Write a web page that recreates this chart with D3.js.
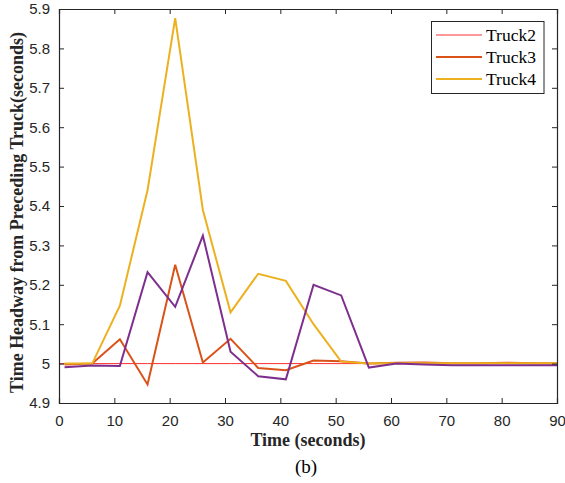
<!DOCTYPE html>
<html><head><meta charset="utf-8">
<script src="https://cdn.jsdelivr.net/npm/d3@7"></script>
<style>body{margin:0;background:#fff}svg{display:block}</style>
</head><body>
<script>
const times = [1,6,11,16,21,26,31,36,41,46,51,56,61,66,71,76,81,86,90];
const truck2 = [5,5,5,5,5,5,5,5,5,5,5,5,5,5,5,5,5,5,5];
const truck2Times = [0,6,11,16,21,26,31,36,41,46,51,56,61,66,71,76,81,86,90];
const truck3 = [4.998,5.0,5.062,4.947,5.251,5.003,5.063,4.989,4.983,5.008,5.006,5.0,5.002,5.003,5.001,5.001,5.002,5.001,5.001];
const truck4 = [5.0,5.0,5.147,5.44,5.877,5.39,5.13,5.228,5.21,5.1,5.005,5.0,5.001,5.001,5.001,5.001,5.001,5.001,5.001];
const truck5 = [4.991,4.995,4.994,5.232,5.144,5.325,5.03,4.968,4.96,5.2,5.173,4.99,5.0,4.998,4.996,4.996,4.996,4.996,4.996];
const xTicks = [0,10,20,30,40,50,60,70,80,90];
const yTicks = [4.9,5.0,5.1,5.2,5.3,5.4,5.5,5.6,5.7,5.8,5.9];
const legendNames = ["Truck2","Truck3","Truck4"];

const W=565,H=483;
const m={l:59,r:8,t:9,b:80};
const svg=d3.select("body").append("svg").attr("width",W).attr("height",H);
const x=d3.scaleLinear().domain([0,90]).range([m.l,W-m.r]);
const y=d3.scaleLinear().domain([4.9,5.9]).range([H-m.b,m.t]);
const axisCol="#262626";

const series=[
  {name:"Truck2",t:truck2Times,v:truck2,color:"#ff3030",w:1},
  {name:"Truck3",t:times,v:truck3,color:"#d95319",w:2},
  {name:"Truck4",t:times,v:truck4,color:"#edb120",w:2},
  {name:"Truck5",t:times,v:truck5,color:"#7e2f8e",w:2}
];
const line=d3.line().x(d=>x(d[0])).y(d=>y(d[1]));
svg.append("g").selectAll("path").data(series).join("path")
  .attr("fill","none").attr("stroke",d=>d.color).attr("stroke-width",d=>d.w)
  .attr("d",d=>line(d.t.map((t,i)=>[t,d.v[i]])));

const fmtY=v=>(Math.abs(v-5)<1e-9?"5":d3.format(".1f")(v));
const gx=svg.append("g").attr("transform",`translate(0,${H-m.b})`)
  .call(d3.axisBottom(x).tickValues(xTicks).tickSize(-5).tickPadding(12).tickFormat(d3.format("d")));
const gxt=svg.append("g").attr("transform",`translate(0,${m.t})`)
  .call(d3.axisTop(x).tickValues(xTicks).tickSize(-5).tickFormat(""));
const gy=svg.append("g").attr("transform",`translate(${m.l},0)`)
  .call(d3.axisLeft(y).tickValues(yTicks).tickSize(-5).tickPadding(9).tickFormat(fmtY));
const gyr=svg.append("g").attr("transform",`translate(${W-m.r},0)`)
  .call(d3.axisRight(y).tickValues(yTicks).tickSize(-5).tickFormat(""));
[gx,gxt,gy,gyr].forEach(g=>{
  g.selectAll("path").attr("stroke",axisCol).attr("stroke-width",1.2);
  g.selectAll("line").attr("stroke",axisCol);
  g.selectAll("text").attr("fill",axisCol).attr("font-family","'Liberation Sans',Arial,sans-serif").attr("font-size",15);
});

svg.append("text").attr("x",308).attr("y",446).attr("text-anchor","middle")
  .attr("font-family","'Liberation Serif','Times New Roman',serif").attr("font-weight","bold").attr("font-size",18)
  .attr("fill","#262626").text("Time (seconds)");
svg.append("text").attr("x",306).attr("y",473).attr("text-anchor","middle")
  .attr("font-family","'Liberation Serif','Times New Roman',serif").attr("font-size",19)
  .attr("fill","#000").text("(b)");
svg.append("text").attr("transform",`translate(23,${(32+393)/2}) rotate(-90)`).attr("text-anchor","middle")
  .attr("font-family","'Liberation Serif','Times New Roman',serif").attr("font-weight","bold").attr("font-size",19)
  .attr("fill","#262626").attr("textLength",361).attr("lengthAdjust","spacingAndGlyphs")
  .text("Time Headway from Preceding Truck(seconds)");

// legend
const lg=svg.append("g");
lg.append("rect").attr("x",431.5).attr("y",21.5).attr("width",112.5).attr("height",72)
  .attr("fill","#fff").attr("stroke","#262626").attr("stroke-width",1);
series.filter(s=>legendNames.includes(s.name)).forEach((s,i)=>{
  const yy=35+i*22;
  lg.append("line").attr("x1",436).attr("x2",482).attr("y1",yy).attr("y2",yy)
    .attr("stroke",s.color).attr("stroke-width",s.w);
  lg.append("text").attr("x",486).attr("y",yy+6).attr("font-family","'Liberation Serif','Times New Roman',serif")
    .attr("font-size",17.5).attr("fill","#000").text(s.name);
});
</script>
</body></html>
